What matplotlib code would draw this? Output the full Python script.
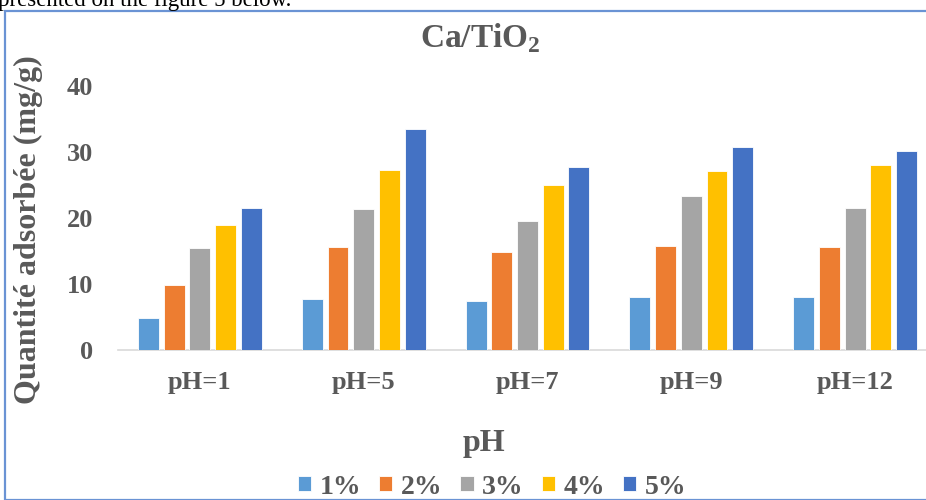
import matplotlib
matplotlib.use("Agg")
import matplotlib.pyplot as plt
from matplotlib.patches import Rectangle
import numpy as np

ph_labels = ["pH=1", "pH=5", "pH=7", "pH=9", "pH=12"]
series_names = ["1%", "2%", "3%", "4%", "5%"]
q_1 = [4.8, 7.8, 7.5, 8.0, 8.0]
q_2 = [9.8, 15.6, 14.8, 15.8, 15.6]
q_3 = [15.4, 21.3, 19.5, 23.4, 21.5]
q_4 = [18.9, 27.3, 25.0, 27.1, 28.1]
q_5 = [21.5, 33.5, 27.7, 30.8, 30.2]
y_ticks = [0, 10, 20, 30, 40]

colors = ["#5B9BD5", "#ED7D31", "#A5A5A5", "#FFC000", "#4472C4"]
text_color = "#595959"
serif = ["Liberation Serif", "DejaVu Serif"]

W, H = 926, 500
fig = plt.figure(figsize=(W / 100, H / 100), dpi=100)

# running text above the chart frame
fig.text(-0.002, 1 - 6 / H, "presented on the figure 5 below.", family=serif,
         fontsize=16.5, color="black", va="baseline", ha="left")

# chart frame
fig.patches.append(Rectangle((5 / W, 0), 1.2, 1 - 11 / H, transform=fig.transFigure,
                             fill=False, edgecolor="#6A93D4", linewidth=1.6))

ax = fig.add_axes([118 / W, 150 / H, 819 / W, 264 / H])
x = np.arange(len(ph_labels))
slot = 0.157
bar_w = 0.128
for i, (vals, name) in enumerate(zip([q_1, q_2, q_3, q_4, q_5], series_names)):
    ax.bar(x + (i - 2) * slot, vals, width=bar_w, color=colors[i], label=name,
           edgecolor="white", linewidth=0.6, zorder=3)

ax.set_xlim(-0.5, len(ph_labels) - 0.5)
ax.set_ylim(0, 40)
ax.set_yticks(y_ticks)
ax.set_xticks(x)
ax.set_xticklabels(ph_labels)
for s in ["top", "right", "left"]:
    ax.spines[s].set_visible(False)
ax.spines["bottom"].set_color("#D9D9D9")
ax.spines["bottom"].set_linewidth(1.2)
ax.tick_params(axis="both", length=0)
ax.tick_params(axis="y", pad=18)
ax.tick_params(axis="x", pad=15)
for lab in ax.get_xticklabels() + ax.get_yticklabels():
    lab.set_family(serif)
    lab.set_fontweight("bold")
    lab.set_fontsize(19)
    lab.set_color(text_color)

fig.text(480 / W, 1 - 38 / H, "Ca/TiO$_\\mathregular{2}$", family=serif, fontsize=24,
         fontweight="bold", color=text_color, ha="center", va="center")
fig.text(28 / W, 1 - 230 / H, "Quantité adsorbée (mg/g)", family=serif, fontsize=23,
         fontweight="bold", color=text_color, rotation=90, ha="center", va="center")
fig.text(484 / W, 1 - 444 / H, "pH", family=serif, fontsize=23,
         fontweight="bold", color=text_color, ha="center", va="center")

leg = fig.legend(*ax.get_legend_handles_labels(), loc="center", ncol=5,
                 bbox_to_anchor=(492 / W, 1 - 487 / H), frameon=False,
                 prop={"family": serif, "weight": "bold", "size": 20},
                 handlelength=0.48, handleheight=0.48, handletextpad=0.3,
                 columnspacing=0.65, borderpad=0)
for t in leg.get_texts():
    t.set_color(text_color)

fig.savefig("out.png", dpi=100)
